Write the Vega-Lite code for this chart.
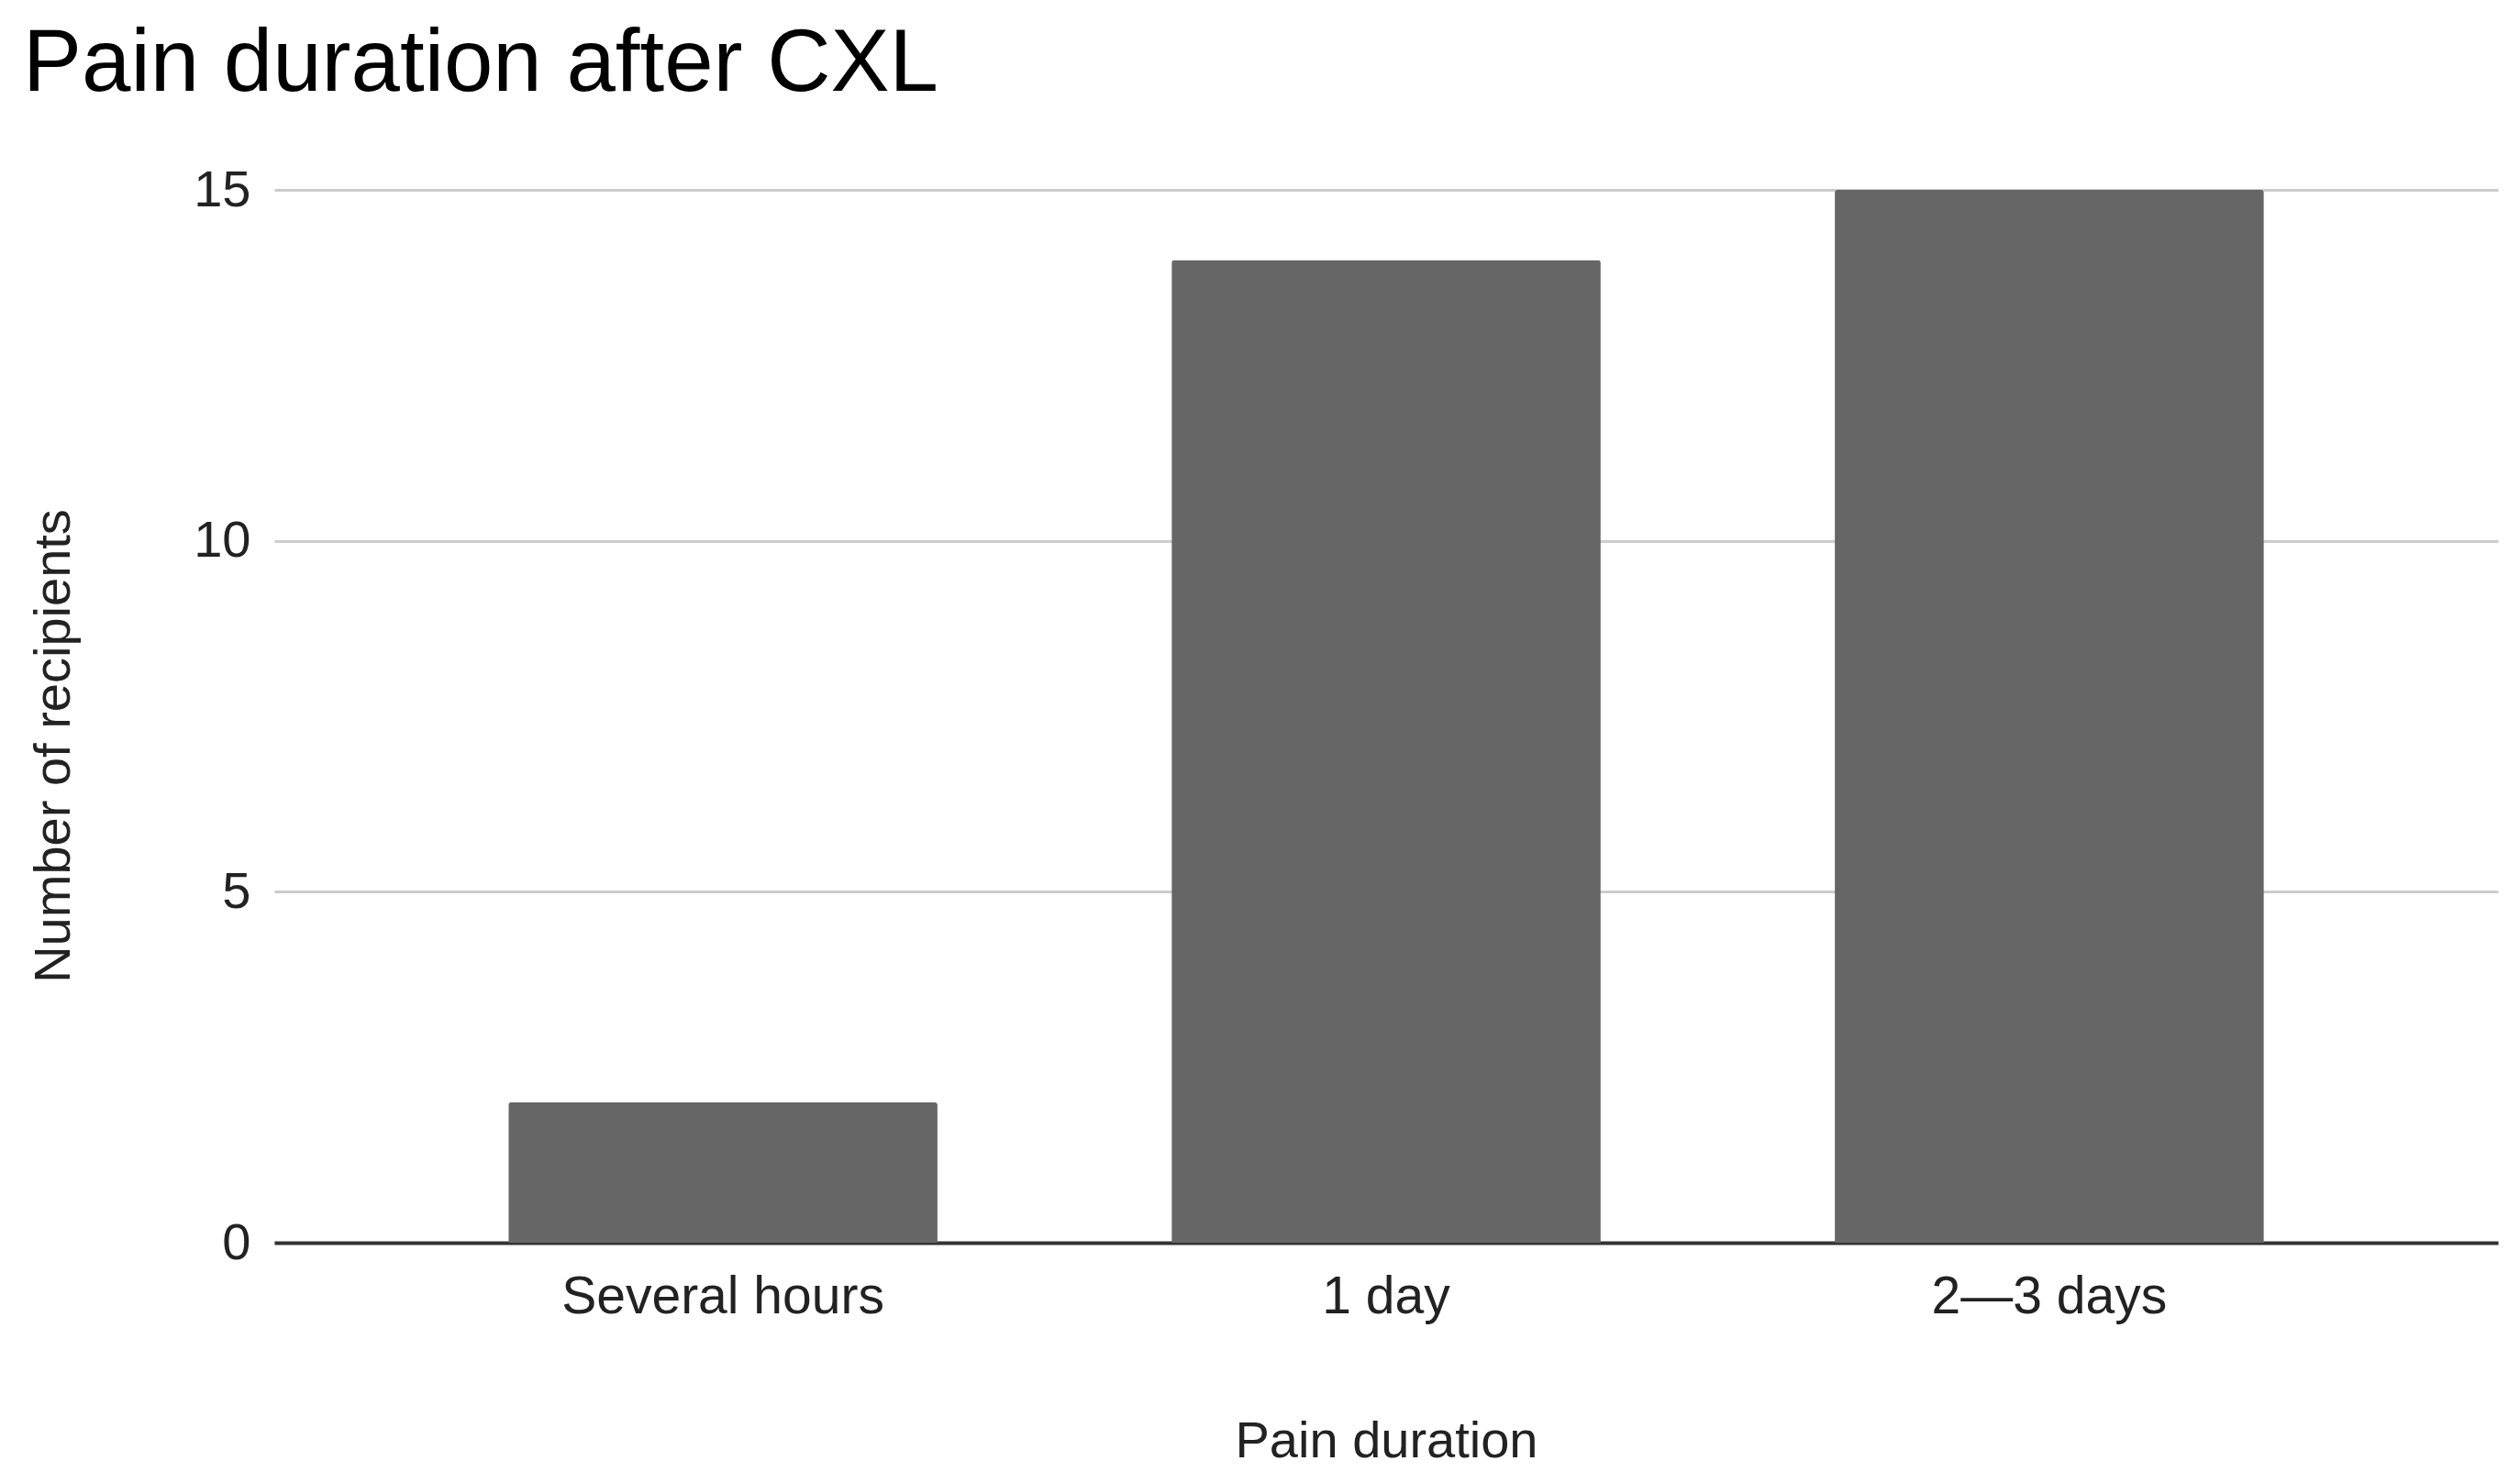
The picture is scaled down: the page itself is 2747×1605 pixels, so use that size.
{
  "$schema": "https://vega.github.io/schema/vega-lite/v6.json",
  "width": 2424,
  "height": 1148,
  "autosize": {"type": "none"},
  "padding": {"left": 299, "top": 207, "right": 24, "bottom": 250},
  "background": "white",
  "title": {
    "text": "Pain duration after CXL",
    "anchor": "start",
    "frame": "group",
    "dx": -274,
    "dy": 93,
    "baseline": "alphabetic",
    "offset": 77,
    "font": "Liberation Sans",
    "fontSize": 96,
    "fontWeight": "normal",
    "color": "#000000"
  },
  "data": {
    "values": [
      {"duration": "Several hours", "count": 2},
      {"duration": "1 day", "count": 14},
      {"duration": "2—3 days", "count": 15}
    ]
  },
  "mark": {"type": "bar", "color": "#666666", "cornerRadiusTopLeft": 3, "cornerRadiusTopRight": 3},
  "encoding": {
    "x": {
      "field": "duration",
      "type": "nominal",
      "sort": null,
      "title": "Pain duration",
      "scale": {"paddingInner": 0.353, "paddingOuter": 0.353},
      "axis": {
        "labelAngle": 0,
        "labelLimit": 2000,
        "labelFont": "Liberation Sans",
        "labelFontSize": 57,
        "labelColor": "#222222",
        "labelBaseline": "alphabetic",
        "labelPadding": 76,
        "ticks": false,
        "domain": true,
        "domainColor": "#333333",
        "domainWidth": 4,
        "titleFont": "Liberation Sans",
        "titleFontSize": 56,
        "titleFontWeight": "normal",
        "titleColor": "#222222",
        "titleBaseline": "alphabetic",
        "titleY": 233
      }
    },
    "y": {
      "field": "count",
      "type": "quantitative",
      "title": "Number of recipients",
      "scale": {"domain": [0, 15], "nice": false},
      "axis": {
        "values": [0, 5, 10, 15],
        "labelFont": "Liberation Sans",
        "labelFontSize": 56,
        "labelColor": "#222222",
        "labelPadding": 26,
        "ticks": false,
        "domain": false,
        "grid": true,
        "gridColor": "#cccccc",
        "gridWidth": 3,
        "titleFont": "Liberation Sans",
        "titleFontSize": 56,
        "titleFontWeight": "normal",
        "titleColor": "#222222",
        "titleAngle": -90,
        "titleAlign": "center",
        "titleBaseline": "middle",
        "titleX": -241,
        "titleY": 606
      }
    }
  },
  "config": {"view": {"stroke": null}}
}
